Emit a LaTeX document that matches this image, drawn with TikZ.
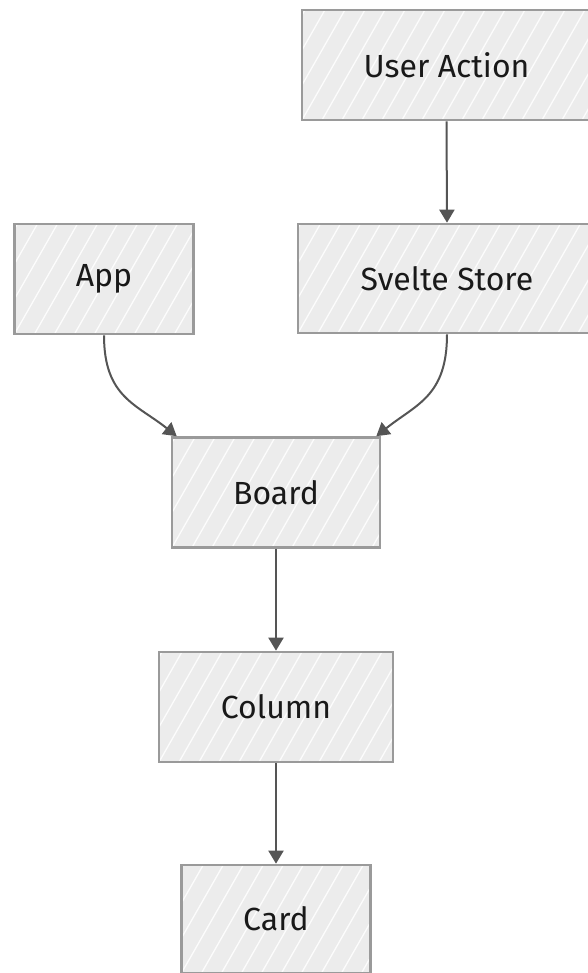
\documentclass[tikz,border=0pt]{standalone}
\usepackage{fontspec}
\setmainfont{Fira Sans}
\usetikzlibrary{arrows.meta,calc}
\definecolor{boxfill}{HTML}{ECECEC}
\definecolor{boxline}{HTML}{9A9A9A}
\definecolor{arrowc}{HTML}{555555}
\tikzset{
  hatched/.style={path picture={
    \foreach \i in {-260,-240,...,320}
      \draw[white, line width=1.3pt, opacity=0.85]
        ($(path picture bounding box.south west)+(\i pt,0)$) -- ++(80pt,140pt);
  }},
  block/.style={draw=boxline, line width=2.6pt, fill=boxfill, hatched,
    rectangle, inner sep=0pt, font=\fontsize{32}{38}\selectfont, text=black!90},
  flow/.style={draw=arrowc, line width=2pt,
    -{Triangle[length=13pt, width=15pt]}},
}
\begin{document}
\begin{tikzpicture}[x=1pt, y=-1pt]
  \useasboundingbox (0,0) rectangle (587,973);
  \fill[white] (0,0) rectangle (587,973);

  \node[block, minimum width=289pt, minimum height=110pt] (ua) at (446.5,65) {User Action};
  \node[block, minimum width=298pt, minimum height=109pt] (ss) at (447,278.5) {Svelte Store};
  \node[block, minimum width=179pt, minimum height=110pt] (app) at (104,279) {App};
  \node[block, minimum width=208pt, minimum height=110pt] (board) at (276,492.5) {Board};
  \node[block, minimum width=234pt, minimum height=110pt] (column) at (276,707) {Column};
  \node[block, minimum width=189pt, minimum height=108pt] (card) at (276,919) {Card};

  \coordinate (bl) at ($(board.north west)+(6pt,0)$);
  \coordinate (br) at ($(board.north east)+(-5pt,0)$);

  \draw[flow] (ua.south) -- (ss.north);
  \draw[flow] (app.south) .. controls +(0,62) and +(-40,-32) .. (bl);
  \draw[flow] (ss.south) .. controls +(0,62) and +(40,-32) .. (br);
  \draw[flow] (board.south) -- (column.north);
  \draw[flow] (column.south) -- (card.north);
\end{tikzpicture}
\end{document}
